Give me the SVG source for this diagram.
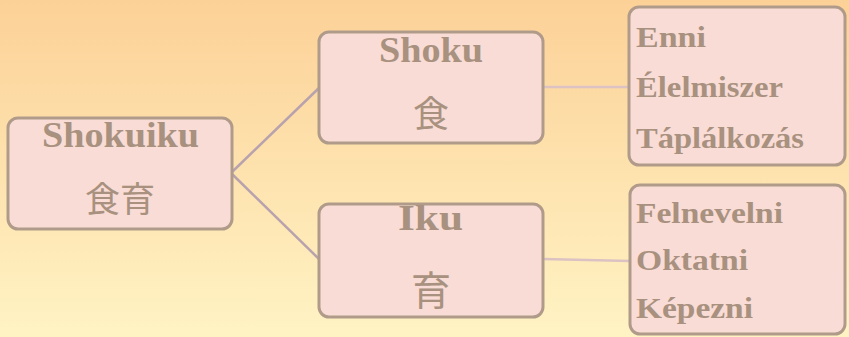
<svg xmlns="http://www.w3.org/2000/svg" width="849" height="337" viewBox="0 0 849 337">
<defs>
<linearGradient id="bg" x1="0" y1="0" x2="0" y2="1">
<stop offset="0" stop-color="#fcd197"/>
<stop offset="1" stop-color="#fff3c4"/>
</linearGradient>
<style>
.box{fill:#f9dcd5;stroke:#b09b8a;stroke-width:3}
.t{font-family:"Liberation Serif",serif;font-weight:bold;fill:#a8917f}
.title{font-size:36px;text-anchor:middle}
.item{font-size:30px}
.cjk{font-family:"Noto Sans CJK JP","Noto Sans CJK SC",sans-serif;fill:#a8917f;text-anchor:middle}
.c1{stroke:#b8a2ae;stroke-width:2.5;fill:none}
.c2{stroke:#dcc2c2;stroke-width:2.5;fill:none}
</style>
</defs>
<rect width="849" height="337" fill="url(#bg)"/>
<g id="connectors">
<line class="c1" x1="231" y1="173" x2="320" y2="87"/>
<line class="c1" x1="231" y1="173" x2="320" y2="260"/>
<line class="c2" x1="543" y1="87" x2="629" y2="87"/>
<line class="c2" x1="543" y1="259" x2="630" y2="261"/>
</g>
<g id="shokuiku">
<rect class="box" x="8" y="118" width="224" height="111" rx="10"/>
<text class="t title" x="120.5" y="147" textLength="157" lengthAdjust="spacingAndGlyphs">Shokuiku</text>
<text class="cjk" x="120" y="212" font-size="35">食育</text>
</g>
<g id="shoku">
<rect class="box" x="319" y="32" width="224" height="111" rx="10"/>
<text class="t title" x="431" y="62" font-size="38" textLength="104" lengthAdjust="spacingAndGlyphs">Shoku</text>
<text class="cjk" x="431" y="127" font-size="36">食</text>
</g>
<g id="iku">
<rect class="box" x="319" y="204" width="224" height="113" rx="10"/>
<text class="t title" x="430.5" y="230" textLength="65" lengthAdjust="spacingAndGlyphs">Iku</text>
<text class="cjk" x="431" y="305" font-size="40">育</text>
</g>
<g id="shoku-meanings">
<rect class="box" x="629" y="7" width="216" height="158" rx="10"/>
<text class="t item" x="636" y="47" textLength="70" lengthAdjust="spacingAndGlyphs">Enni</text>
<text class="t item" x="636" y="97" textLength="147" lengthAdjust="spacingAndGlyphs">Élelmiszer</text>
<text class="t item" x="636" y="148" textLength="168" lengthAdjust="spacingAndGlyphs">Táplálkozás</text>
</g>
<g id="iku-meanings">
<rect class="box" x="630" y="185" width="215" height="149" rx="10"/>
<text class="t item" x="636" y="223" textLength="147" lengthAdjust="spacingAndGlyphs">Felnevelni</text>
<text class="t item" x="636" y="270" textLength="112" lengthAdjust="spacingAndGlyphs">Oktatni</text>
<text class="t item" x="636" y="318" textLength="117" lengthAdjust="spacingAndGlyphs">Képezni</text>
</g>
</svg>
